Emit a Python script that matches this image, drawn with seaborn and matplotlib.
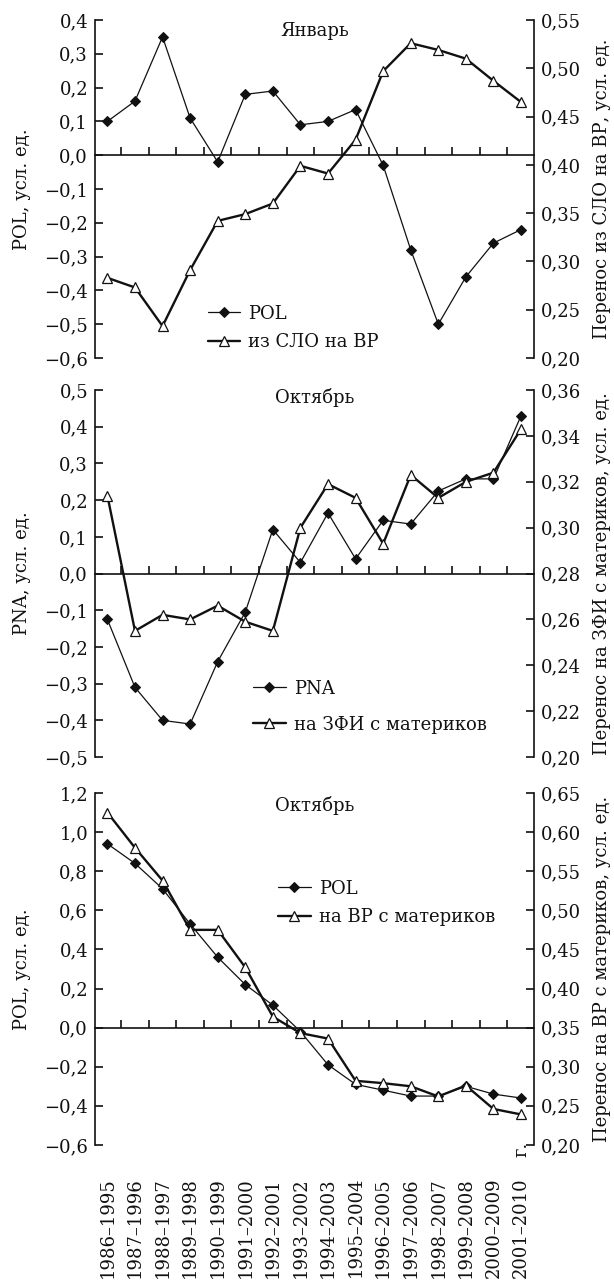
#!/usr/bin/env python3
"""
Three stacked twin-axis panels: circulation index vs. transfer, 9-year windows.
"""
import numpy as np
import seaborn as sns
import matplotlib.pyplot as plt
from matplotlib.ticker import FuncFormatter

# -----------------------------------------------------------------------
# Data
# -----------------------------------------------------------------------
PERIODS = [
    "1986–1995", "1987–1996", "1988–1997", "1989–1998",
    "1990–1999", "1991–2000", "1992–2001", "1993–2002",
    "1994–2003", "1995–2004", "1996–2005", "1997–2006",
    "1998–2007", "1999–2008", "2000–2009", "2001–2010",
]

JAN_POL = [0.10, 0.16, 0.35, 0.11, -0.02, 0.18, 0.19, 0.09,
           0.10, 0.135, -0.03, -0.28, -0.50, -0.36, -0.26, -0.22]
JAN_SLO_VR = [0.283, 0.273, 0.233, 0.291, 0.342, 0.349, 0.360, 0.399,
              0.391, 0.426, 0.497, 0.526, 0.519, 0.510, 0.487, 0.465]

OCT_PNA = [-0.125, -0.31, -0.40, -0.41, -0.24, -0.105, 0.12, 0.03,
           0.165, 0.04, 0.145, 0.135, 0.225, 0.258, 0.258, 0.43]
OCT_ZFI = [0.314, 0.255, 0.262, 0.260, 0.266, 0.259, 0.255, 0.300,
           0.319, 0.313, 0.293, 0.323, 0.313, 0.320, 0.324, 0.343]

OCT_POL = [0.94, 0.84, 0.71, 0.53, 0.36, 0.22, 0.115, -0.02,
           -0.19, -0.29, -0.32, -0.35, -0.35, -0.30, -0.34, -0.36]
OCT_VR = [0.625, 0.580, 0.538, 0.475, 0.475, 0.427, 0.364, 0.343,
          0.336, 0.282, 0.279, 0.275, 0.262, 0.276, 0.246, 0.239]

# panel config: title, left/right series, labels, axis ranges and steps
PANELS = [
    {
        "title": "Январь",
        "left": JAN_POL, "left_name": "POL",
        "right": JAN_SLO_VR, "right_name": "из СЛО на ВР",
        "left_label": "POL, усл. ед.",
        "right_label": "Перенос из СЛО на ВР, усл. ед.",
        "left_lim": (-0.6, 0.4), "left_step": 0.1,
        "right_lim": (0.20, 0.55), "right_step": 0.05,
        "rect": [0.1547, 0.7212, 0.7150, 0.2632],
        "title_y": 0.968, "legend_at": (0.257, 0.158), "spacing": 0.6,
    },
    {
        "title": "Октябрь",
        "left": OCT_PNA, "left_name": "PNA",
        "right": OCT_ZFI, "right_name": "на ЗФИ с материков",
        "left_label": "PNA, усл. ед.",
        "right_label": "Перенос на ЗФИ с материков, усл. ед.",
        "left_lim": (-0.5, 0.5), "left_step": 0.1,
        "right_lim": (0.20, 0.36), "right_step": 0.02,
        "rect": [0.1547, 0.4104, 0.7150, 0.2858],
        "title_y": 0.979, "legend_at": (0.360, 0.211), "spacing": 1.0,
    },
    {
        "title": "Октябрь",
        "left": OCT_POL, "left_name": "POL",
        "right": OCT_VR, "right_name": "на ВР с материков",
        "left_label": "POL, усл. ед.",
        "right_label": "Перенос на ВР с материков, усл. ед.",
        "left_lim": (-0.6, 1.2), "left_step": 0.2,
        "right_lim": (0.20, 0.65), "right_step": 0.05,
        "rect": [0.1547, 0.1083, 0.7150, 0.2741],
        "title_y": 0.964, "legend_at": (0.417, 0.754), "spacing": 0.6,
    },
]

FONT_SIZE = 13
INK = "#111111"


def comma_fmt(decimals):
    def fmt(v, _pos):
        if abs(v) < 1e-9:
            v = 0.0
        return f"{v:.{decimals}f}".replace(".", ",").replace("-", "−")
    return FuncFormatter(fmt)


def draw_panel(fig, cfg, show_xlabels):
    x = np.arange(len(PERIODS))
    ax = fig.add_axes(cfg["rect"])
    ax2 = ax.twinx()

    sns.lineplot(x=x, y=cfg["left"], ax=ax, color=INK, lw=0.9,
                 marker="D", markersize=5.5, markeredgecolor=INK,
                 markerfacecolor=INK, label=cfg["left_name"])
    sns.lineplot(x=x, y=cfg["right"], ax=ax2, color=INK, lw=1.7,
                 marker="^", markersize=7.5, markeredgecolor=INK,
                 markeredgewidth=0.9, markerfacecolor="white",
                 label=cfg["right_name"])
    for a in (ax, ax2):
        if a.get_legend() is not None:
            a.get_legend().remove()

    ax.set_xlim(-0.45, len(PERIODS) - 0.53)

    # left axis
    lo, hi = cfg["left_lim"]
    ax.set_ylim(lo, hi)
    ax.set_yticks(np.arange(lo, hi + 1e-9, cfg["left_step"]))
    ax.yaxis.set_major_formatter(comma_fmt(1))
    # right axis
    lo2, hi2 = cfg["right_lim"]
    ax2.set_ylim(lo2, hi2)
    ax2.set_yticks(np.arange(lo2, hi2 + 1e-9, cfg["right_step"]))
    ax2.yaxis.set_major_formatter(comma_fmt(2))

    # spines: zero line carries the between-period ticks
    ax.spines["top"].set_visible(False)
    ax.spines["right"].set_visible(False)
    ax.spines["bottom"].set_position(("data", 0))
    for s in ("top", "bottom", "left"):
        ax2.spines[s].set_visible(False)
    for sp in list(ax.spines.values()) + [ax2.spines["right"]]:
        sp.set_linewidth(1.2)
        sp.set_color(INK)

    ax.set_xticks(x[:-1] + 0.5)
    ax.set_xticklabels([])
    ax.tick_params(axis="x", direction="in", length=6, width=1.2, color=INK)
    ax.tick_params(axis="y", direction="in", length=6, width=1.2, color=INK,
                   pad=5, labelsize=FONT_SIZE, labelcolor=INK)
    ax2.tick_params(axis="y", direction="in", length=6, width=1.2, color=INK,
                    pad=5, labelsize=FONT_SIZE, labelcolor=INK)

    ax.set_xlabel("")
    ax.set_ylabel(cfg["left_label"], fontsize=FONT_SIZE, color=INK)
    ax.yaxis.set_label_coords(-0.146, 0.5)
    ax2.set_ylabel(cfg["right_label"], fontsize=FONT_SIZE, color=INK)
    ax2.yaxis.set_label_coords(1.135, 0.5)

    ax.text(0.5, cfg["title_y"], cfg["title"], transform=ax.transAxes,
            ha="center", va="center", fontsize=FONT_SIZE, color=INK)

    ax2.legend(
        [ax.lines[0], ax2.lines[0]],
        [cfg["left_name"], cfg["right_name"]],
        loc="upper left", bbox_to_anchor=cfg["legend_at"],
        frameon=False, fontsize=FONT_SIZE, borderpad=0, borderaxespad=0,
        handlelength=1.8, handletextpad=0.45, labelspacing=cfg["spacing"],
        labelcolor=INK,
    )

    if show_xlabels:
        sec = ax.secondary_xaxis(0)
        sec.set_xticks(x)
        sec.set_xticklabels(PERIODS)
        sec.tick_params(axis="x", length=0, pad=23, rotation=90,
                        labelsize=FONT_SIZE, labelcolor=INK)
        sec.spines["bottom"].set_visible(False)
        ax.annotate("г.", xy=(x[-1], 0), xycoords=("data", "axes fraction"),
                    xytext=(0, -3), textcoords="offset points", rotation=90,
                    ha="center", va="center", fontsize=FONT_SIZE, color=INK)


def main():
    sns.set_theme(style="ticks")
    plt.rcParams["font.family"] = ["DejaVu Serif"]
    plt.rcParams["axes.unicode_minus"] = True

    fig = plt.figure(figsize=(6.14, 12.84), dpi=100)
    fig.patch.set_facecolor("white")
    for i, cfg in enumerate(PANELS):
        draw_panel(fig, cfg, show_xlabels=(i == len(PANELS) - 1))

    fig.savefig("out.png", dpi=100, facecolor="white")
    plt.close(fig)


if __name__ == "__main__":
    main()
